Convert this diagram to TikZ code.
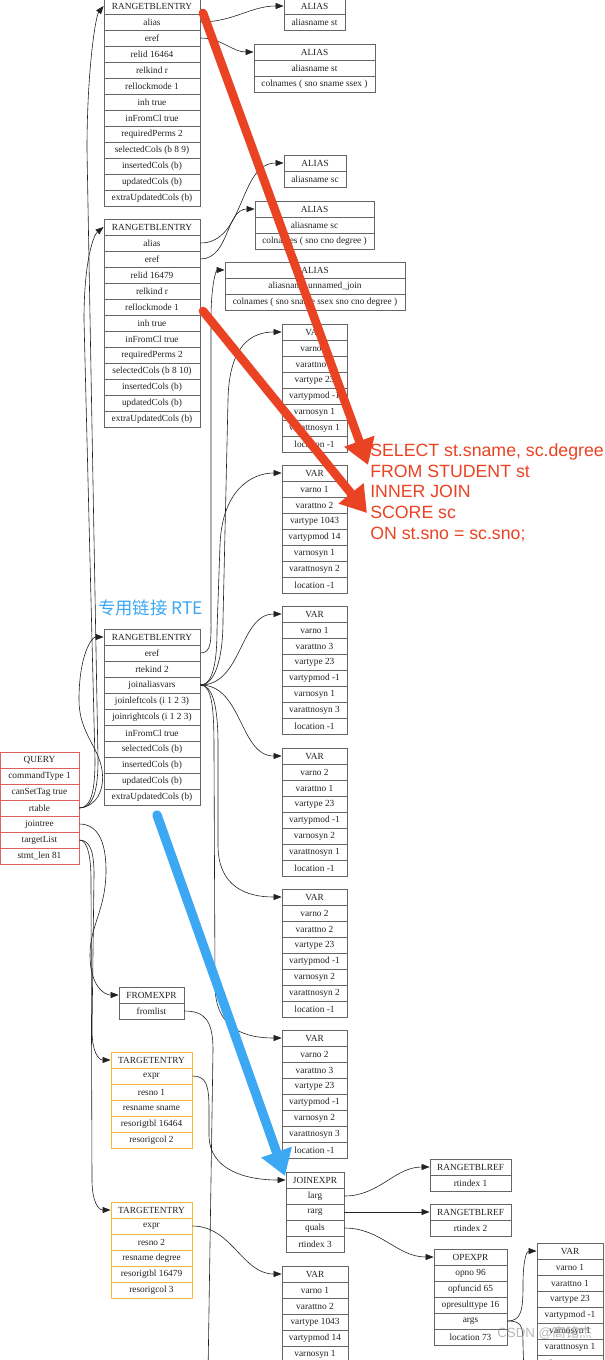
\documentclass[tikz,border=0pt]{standalone}
\usepackage{fontspec}
\setmainfont{Liberation Serif}
\newfontfamily\sqlfont{Liberation Sans}
\newfontfamily\cjkfont{Noto Sans CJK SC}
\usetikzlibrary{arrows.meta}
\definecolor{cellgray}{HTML}{666666}
\definecolor{qred}{HTML}{E06060}
\definecolor{teorange}{HTML}{F5B93A}
\definecolor{annred}{HTML}{EA4323}
\definecolor{annblue}{HTML}{3CA8F4}
\definecolor{txt}{HTML}{222222}
\definecolor{edgec}{HTML}{222222}
\tikzset{
  cell/.style={draw=cellgray, line width=0.6pt, fill=white, minimum height=12pt,
    inner sep=0pt, font=\fontsize{7}{8}\selectfont, text=txt, anchor=center},
  edge/.style={draw=edgec, line width=0.45pt, -{Triangle[length=6pt,width=4.5pt]}},
  plainedge/.style={draw=edgec, line width=0.45pt},
  bigred/.style={draw=annred, line width=6.5pt, line cap=round, -{Triangle[length=19pt,width=23pt]}},
  bigblue/.style={draw=annblue, line width=7pt, line cap=round, -{Triangle[length=19pt,width=23pt]}},
  sqltext/.style={anchor=base west, inner sep=0pt, text=annred, font=\sqlfont\fontsize{13.3}{15.6}\selectfont},
}
% #1 colour, #2 name, #3 left, #4 top, #5 width, #6 rows
\newcommand\rec[6][cellgray]{%
  \foreach \t [count=\i from 0] in {#6}{%
    \node[cell, draw=#1, minimum width={#5*0.75pt}] (#2-\i) at ({#3+#5/2},{#4+16*\i+8}) {\t};
  }}
\begin{document}
\begin{tikzpicture}[x=0.75pt,y=-0.75pt]
\useasboundingbox (0,0) rectangle (605,1360);
\fill[white] (0,0) rectangle (605,1360);

% ---------- records ----------
\rec{RTE1}{104}{-2}{96}{RANGETBLENTRY,alias,eref,relid 16464,relkind r,rellockmode 1,inh true,inFromCl true,requiredPerms 2,selectedCols (b 8 9),insertedCols (b),updatedCols (b),extraUpdatedCols (b)}
\rec{A1}{284}{-2}{61}{ALIAS,aliasname st}
\rec{A2}{254}{44}{121}{ALIAS,aliasname st,colnames ( sno sname ssex )}
\rec{A3}{284}{155}{62}{ALIAS,aliasname sc}
\rec{A4}{255}{201}{119}{ALIAS,aliasname sc,colnames ( sno cno degree )}
\rec{RTE2}{104}{219}{96}{RANGETBLENTRY,alias,eref,relid 16479,relkind r,rellockmode 1,inh true,inFromCl true,requiredPerms 2,selectedCols (b 8 10),insertedCols (b),updatedCols (b),extraUpdatedCols (b)}
\rec{A5}{225}{262}{180}{ALIAS,aliasname unnamed\_join,colnames ( sno sname ssex sno cno degree )}
\rec{V1}{282}{324}{65}{VAR,varno 1,varattno 1,vartype 23,vartypmod -1,varnosyn 1,varattnosyn 1,location -1}
\rec{V2}{282}{465}{65}{VAR,varno 1,varattno 2,vartype 1043,vartypmod 14,varnosyn 1,varattnosyn 2,location -1}
\rec{V3}{282}{606}{65}{VAR,varno 1,varattno 3,vartype 23,vartypmod -1,varnosyn 1,varattnosyn 3,location -1}
\rec{V4}{282}{748}{65}{VAR,varno 2,varattno 1,vartype 23,vartypmod -1,varnosyn 2,varattnosyn 1,location -1}
\rec{V5}{282}{889}{65}{VAR,varno 2,varattno 2,vartype 23,vartypmod -1,varnosyn 2,varattnosyn 2,location -1}
\rec{V6}{282}{1030}{65}{VAR,varno 2,varattno 3,vartype 23,vartypmod -1,varnosyn 2,varattnosyn 3,location -1}
\rec{RTE3}{104}{629}{96}{RANGETBLENTRY,eref,rtekind 2,joinaliasvars,joinleftcols (i 1 2 3),joinrightcols (i 1 2 3),inFromCl true,selectedCols (b),insertedCols (b),updatedCols (b),extraUpdatedCols (b)}
\rec[qred]{Q}{0}{752}{79}{QUERY,commandType 1,canSetTag true,rtable,jointree,targetList,stmt\_len 81}
\rec{FE}{119}{987}{65}{FROMEXPR,fromlist}
\rec[teorange]{TE1}{111}{1052}{81}{TARGETENTRY,expr,resno 1,resname sname,resorigtbl 16464,resorigcol 2}
\rec[teorange]{TE2}{111}{1202}{81}{TARGETENTRY,expr,resno 2,resname degree,resorigtbl 16479,resorigcol 3}
\rec{JE}{286}{1172}{58}{JOINEXPR,larg,rarg,quals,rtindex 3}
\rec{RR1}{430}{1159}{81}{RANGETBLREF,rtindex 1}
\rec{RR2}{430}{1204}{81}{RANGETBLREF,rtindex 2}
\rec{OP}{434}{1249}{73}{OPEXPR,opno 96,opfuncid 65,opresulttype 16,args,location 73}
\rec{V7}{282}{1266}{66}{VAR,varno 1,varattno 2,vartype 1043,vartypmod 14,varnosyn 1}
\rec{V8}{537}{1243}{66}{VAR,varno 1,varattno 1,vartype 23,vartypmod -1,varnosyn 1,varattnosyn 1,location -1}

% ---------- connectors ----------
\draw[edge] (RTE1-1.east) to[out=0,in=180] (A1-0.west);
\draw[edge] (RTE1-2.east) to[out=0,in=180] (A2-0.west);
\draw[edge] (RTE2-1.east) to[out=0,in=180] (A3-0.west);
\draw[edge] (RTE2-2.east) to[out=0,in=180] (A4-0.west);
\draw[edge] (RTE3-1.east) .. controls +(12,0) and +(0,30) .. (211,610) -- (211,320) .. controls +(0,-38) and +(-8,0) .. (A5-0.west);

\draw[edge] (RTE3-3.east) .. controls +(14,0) and +(0,40) .. (223,620) -- (228,400) .. controls +(1,-55) and +(-30,0) .. (V1-0.west);
\draw[edge] (RTE3-3.east) .. controls +(10,0) and +(0,40) .. (217,630) -- (220,545) .. controls +(2,-55) and +(-30,0) .. (V2-0.west);
\draw[edge] (RTE3-3.east) to[out=0,in=180] (V3-0.west);
\draw[edge] (RTE3-3.east) to[out=0,in=180] (V4-0.west);
\draw[edge] (RTE3-3.east) .. controls +(12,0) and +(0,-40) .. (218,745) -- (218,845) .. controls +(0,42) and +(-35,0) .. (V5-0.west);
\draw[edge] (RTE3-3.east) .. controls +(12,0) and +(0,-40) .. (214,750) -- (215,985) .. controls +(0,45) and +(-35,0) .. (V6-0.west);

\draw[edge] (Q-3.east) .. controls +(14,0) and +(0,30) .. (98,760) -- (87,150) .. controls +(0,-80) and +(-8,10) .. (RTE1-0.west);
\draw[edge] (Q-3.east) .. controls +(12,0) and +(0,30) .. (95,760) -- (84,320) .. controls +(0,-60) and +(-10,8) .. (RTE2-0.west);
\draw[edge] (Q-3.east) .. controls +(20,-2) and +(5,20) .. (101,765) .. controls +(-5,-20) and +(0,30) .. (79,700) .. controls +(0,-45) and +(-12,0) .. (RTE3-0.west);

\draw[edge] (Q-4.east) .. controls +(20,0) and +(0,-25) .. (106,870) .. controls +(0,40) and +(0,-30) .. (90,955) .. controls +(0,30) and +(-15,0) .. (FE-0.west);
\draw[edge] (Q-5.east) .. controls +(12,0) and +(0,-20) .. (94,875) -- (92,1030) .. controls +(0,22) and +(-12,0) .. (TE1-0.west);
\draw[edge] (Q-5.east) .. controls +(9,0) and +(0,-20) .. (91,880) -- (92,1180) .. controls +(0,22) and +(-12,0) .. (TE2-0.west);

\coordinate (offA) at (208,1375);
\coordinate (offB) at (524,1375);
\draw[plainedge] (FE-1.east) .. controls +(20,0) and +(0,-30) .. (213,1050) -- (offA);
\draw[edge] (TE1-1.east) .. controls +(14,0) and +(0,-25) .. (209,1110) -- (209,1135) .. controls +(0,35) and +(-40,0) .. (JE-0.west);
\draw[edge] (TE2-1.east) to[out=0,in=180] (V7-0.west);

\draw[edge] (JE-1.east) to[out=0,in=180] (RR1-0.west);
\draw[edge] (JE-2.east) -- (RR2-0.west);
\draw[edge] (JE-3.east) to[out=0,in=180] (OP-0.west);
\draw[edge] (OP-4.east) .. controls +(14,0) and +(0,25) .. (523,1285) .. controls +(0,-25) and +(-10,0) .. (V8-0.west);
\draw[plainedge] (OP-4.east) .. controls +(14,0) and +(0,-20) .. (523,1345) -- (offB);

% ---------- annotations ----------
\node[sqltext] (sql1) at (370,456) {SELECT st.sname, sc.degree};
\node[sqltext] (sql2) at (370,477) {FROM STUDENT st};
\node[sqltext] (sql3) at (370,497.5) {INNER JOIN};
\node[sqltext] (sql4) at (370,518) {SCORE sc};
\node[sqltext] (sql5) at (370,539) {ON st.sno = sc.sno;};
\node[anchor=base west, inner sep=0pt, text=annblue, font=\cjkfont\fontsize{13}{15}\selectfont] (rtelabel) at (98,614.7) {专用链接 RTE};

\coordinate (ra1s) at (203,13);
\coordinate (ra1e) at (368,465);
\coordinate (ra2s) at (203,311);
\coordinate (ra2e) at (367,513);
\coordinate (bas) at (157,815);
\coordinate (bae) at (285,1176);
\draw[bigred] (ra1s) -- (ra1e);
\draw[bigred] (ra2s) -- (ra2e);
\draw[bigblue] (bas) -- (bae);

\node[anchor=base west, inner sep=0pt, text=gray, opacity=0.55, font=\sqlfont\fontsize{10}{12}\selectfont] (wm) at (497,1337) {CSDN @{\cjkfont 高铭杰}};
\end{tikzpicture}
\end{document}
